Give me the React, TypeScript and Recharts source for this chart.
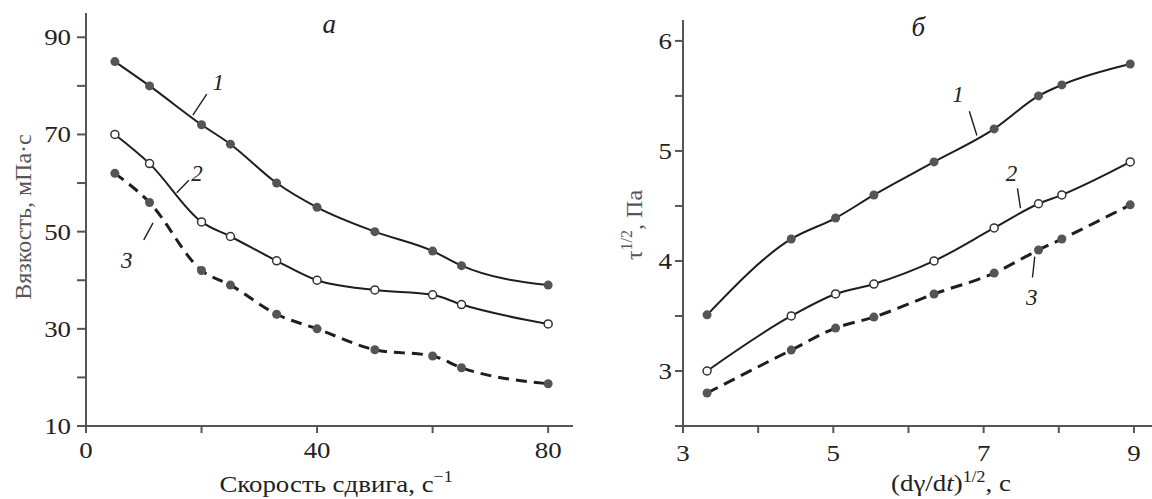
import React from "react";
import {
  LineChart,
  Line,
  XAxis,
  YAxis,
  ReferenceDot,
  ReferenceLine,
} from "recharts";

// panel a: viscosity vs shear rate
const shearRate = [5, 11, 20, 25, 33, 40, 50, 60, 65, 80];
const viscosity1 = [85, 80, 72, 68, 60, 55, 50, 46, 43, 39];
const viscosity2 = [70, 64, 52, 49, 44, 40, 38, 37, 35, 31];
const viscosity3 = [62, 56, 42, 39, 33, 30, 25.7, 24.4, 22, 18.7];

// panel b: sqrt(stress) vs sqrt(shear rate)
const sqrtShear = [3.32, 4.44, 5.03, 5.54, 6.34, 7.14, 7.73, 8.04, 8.95];
const tau1 = [3.51, 4.2, 4.39, 4.6, 4.9, 5.2, 5.5, 5.6, 5.79];
const tau2 = [3.0, 3.5, 3.7, 3.79, 4.0, 4.3, 4.52, 4.6, 4.9];
const tau3 = [2.8, 3.19, 3.39, 3.49, 3.7, 3.89, 4.1, 4.2, 4.51];

// ticks
const leftXTicks = [0, 20, 40, 60, 80];
const leftXLabels = [0, 40, 80];
const leftYTicks = [10, 20, 30, 40, 50, 60, 70, 80, 90];
const leftYLabels = [10, 30, 50, 70, 90];
const rightXTicks = [3, 4, 5, 6, 7, 8, 9];
const rightXLabels = [3, 5, 7, 9];
const rightYTicks = [2.5, 3, 3.5, 4, 4.5, 5, 5.5, 6];
const rightYLabels = [3, 4, 5, 6];

// curve numbers with leader lines (data coordinates)
const leftNotes = [
  { text: "1", x: 22.9, y: 80.8, from: [18.5, 74.0], to: [20.9, 78.3] },
  { text: "2", x: 19.2, y: 62.1, from: [15.7, 58.0], to: [17.8, 60.6] },
  { text: "3", x: 7.05, y: 44.2, from: [10.0, 48.3], to: [11.6, 51.8] },
];
const rightNotes = [
  { text: "1", x: 6.66, y: 5.52, from: [6.81, 5.36], to: [6.91, 5.14] },
  { text: "2", x: 7.37, y: 4.8, from: [7.45, 4.66], to: [7.49, 4.48] },
  { text: "3", x: 7.64, y: 3.67, from: [7.65, 3.85], to: [7.68, 4.04] },
];

const leftData = shearRate.map((x, i) => ({
  x,
  s1: viscosity1[i],
  s2: viscosity2[i],
  s3: viscosity3[i],
}));
const rightData = sqrtShear.map((x, i) => ({
  x,
  s1: tau1[i],
  s2: tau2[i],
  s3: tau3[i],
}));

const FONT = "'Liberation Serif', 'Times New Roman', serif";
const SX = 1.12; // the scan is a bit wider than tall
const AXIS = "#555";
const INK = "#1e1e1e";

const AxisTick = ({ x, y, payload, show, anchor, dy }: any) => {
  if (!show.includes(payload.value)) return null;
  return (
    <text
      transform={`translate(${x},${y}) scale(${SX},1)`}
      textAnchor={anchor}
      dy={dy}
      fontFamily={FONT}
      fontSize={24}
      fill="#222"
    >
      {payload.value}
    </text>
  );
};

const noteLabel = (text: string, size = 23) => (p: any) => {
  const vb = p.viewBox || {};
  const cx = (vb.x || 0) + (vb.width || 0) / 2;
  const cy = (vb.y || 0) + (vb.height || 0) / 2;
  return (
    <text
      x={cx}
      y={cy}
      dy={8}
      textAnchor="middle"
      fontFamily={FONT}
      fontStyle="italic"
      fontSize={size}
      fill="#222"
    >
      {text}
    </text>
  );
};

const filledDot = { r: 4.5, fill: "#555", stroke: "#555", strokeWidth: 0 };
const openDot = { r: 4, fill: "#fff", stroke: "#333", strokeWidth: 1.5 };

const renderNotes = (notes: typeof leftNotes) =>
  notes.flatMap((n) => [
    <ReferenceLine
      key={"l" + n.text}
      segment={[
        { x: n.from[0], y: n.from[1] },
        { x: n.to[0], y: n.to[1] },
      ]}
      stroke={INK}
      strokeWidth={1.4}
    />,
    <ReferenceDot
      key={"d" + n.text}
      x={n.x}
      y={n.y}
      r={0}
      stroke="none"
      label={noteLabel(n.text)}
    />,
  ]);

const App = () => {
  return (
    <div
      style={{
        position: "absolute",
        left: 0,
        top: 0,
        width: 1152,
        height: 499,
        background: "#fff",
      }}
    >
      <div style={{ position: "absolute", left: 0, top: 0 }}>
        <LineChart
          width={580}
          height={499}
          data={leftData}
          margin={{ top: 13, right: 7, bottom: 0, left: 0 }}
        >
          <XAxis
            dataKey="x"
            type="number"
            domain={[0, 84.3]}
            ticks={leftXTicks}
            interval={0}
            allowDataOverflow
            height={73}
            axisLine={{ stroke: AXIS, strokeWidth: 2 }}
            tickLine={{ stroke: AXIS, strokeWidth: 2 }}
            tickSize={7}
            tickMargin={2}
            tick={(p: any) => (
              <AxisTick {...p} show={leftXLabels} anchor="middle" dy={23} />
            )}
          />
          <YAxis
            type="number"
            domain={[10, 95]}
            ticks={leftYTicks}
            interval={0}
            allowDataOverflow
            width={86}
            axisLine={{ stroke: AXIS, strokeWidth: 2 }}
            tickLine={{ stroke: AXIS, strokeWidth: 2 }}
            tickSize={9}
            tickMargin={6}
            tick={(p: any) => (
              <AxisTick {...p} show={leftYLabels} anchor="end" dy={8} />
            )}
          />
          <Line
            dataKey="s1"
            type="monotone"
            stroke={INK}
            strokeWidth={2}
            dot={filledDot}
            activeDot={false}
            isAnimationActive={false}
          />
          <Line
            dataKey="s2"
            type="monotone"
            stroke={INK}
            strokeWidth={2}
            dot={openDot}
            activeDot={false}
            isAnimationActive={false}
          />
          <Line
            dataKey="s3"
            type="monotone"
            stroke={INK}
            strokeWidth={3}
            strokeDasharray="11 7"
            dot={filledDot}
            activeDot={false}
            isAnimationActive={false}
          />
          {renderNotes(leftNotes)}
          <ReferenceDot
            x={42.1}
            y={92.5}
            r={0}
            stroke="none"
            label={noteLabel("а", 27)}
          />
        </LineChart>
      </div>

      <div style={{ position: "absolute", left: 580, top: 0 }}>
        <LineChart
          width={572}
          height={499}
          data={rightData}
          margin={{ top: 20, right: 0, bottom: 0, left: 0 }}
        >
          <XAxis
            dataKey="x"
            type="number"
            domain={[3, 9.24]}
            ticks={rightXTicks}
            interval={0}
            allowDataOverflow
            height={73}
            axisLine={{ stroke: AXIS, strokeWidth: 2 }}
            tickLine={{ stroke: AXIS, strokeWidth: 2 }}
            tickSize={7}
            tickMargin={2}
            tick={(p: any) => (
              <AxisTick {...p} show={rightXLabels} anchor="middle" dy={26} />
            )}
          />
          <YAxis
            type="number"
            domain={[2.5, 6.19]}
            ticks={rightYTicks}
            interval={0}
            allowDataOverflow
            width={103}
            axisLine={{ stroke: AXIS, strokeWidth: 2 }}
            tickLine={{ stroke: AXIS, strokeWidth: 2 }}
            tickSize={8}
            tickMargin={3}
            tick={(p: any) => (
              <AxisTick {...p} show={rightYLabels} anchor="end" dy={8} />
            )}
          />
          <Line
            dataKey="s1"
            type="monotone"
            stroke={INK}
            strokeWidth={2}
            dot={filledDot}
            activeDot={false}
            isAnimationActive={false}
          />
          <Line
            dataKey="s2"
            type="monotone"
            stroke={INK}
            strokeWidth={2}
            dot={openDot}
            activeDot={false}
            isAnimationActive={false}
          />
          <Line
            dataKey="s3"
            type="monotone"
            stroke={INK}
            strokeWidth={3}
            strokeDasharray="12 7"
            dot={filledDot}
            activeDot={false}
            isAnimationActive={false}
          />
          {renderNotes(rightNotes)}
          <ReferenceDot
            x={6.13}
            y={6.12}
            r={0}
            stroke="none"
            label={noteLabel("б", 27)}
          />
        </LineChart>
      </div>

      {/* axis titles */}
      <svg
        width={1152}
        height={499}
        style={{ position: "absolute", left: 0, top: 0, pointerEvents: "none" }}
        fontFamily={FONT}
        fontSize={24}
      >
        <text
          transform="translate(31,217) rotate(-90)"
          textAnchor="middle"
          fill="#555"
        >
          Вязкость, мПа·с
        </text>
        <text
          transform={`translate(336,492) scale(${SX},1)`}
          textAnchor="middle"
          fill="#222"
        >
          Скорость сдвига, с
          <tspan dy={-10} fontSize={16}>
            −1
          </tspan>
        </text>
        <text
          transform="translate(642,225) rotate(-90)"
          textAnchor="middle"
          fill="#555"
        >
          τ
          <tspan dy={-10} fontSize={16}>
            1/2
          </tspan>
          <tspan dy={10}>, Па</tspan>
        </text>
        <text
          transform={`translate(951,491) scale(${SX},1)`}
          textAnchor="middle"
          fill="#222"
        >
          (dγ/d<tspan fontStyle="italic">t</tspan>)
          <tspan dy={-9} fontSize={16}>
            1/2
          </tspan>
          <tspan dy={9}>, c</tspan>
        </text>
      </svg>
    </div>
  );
};

export default App;
